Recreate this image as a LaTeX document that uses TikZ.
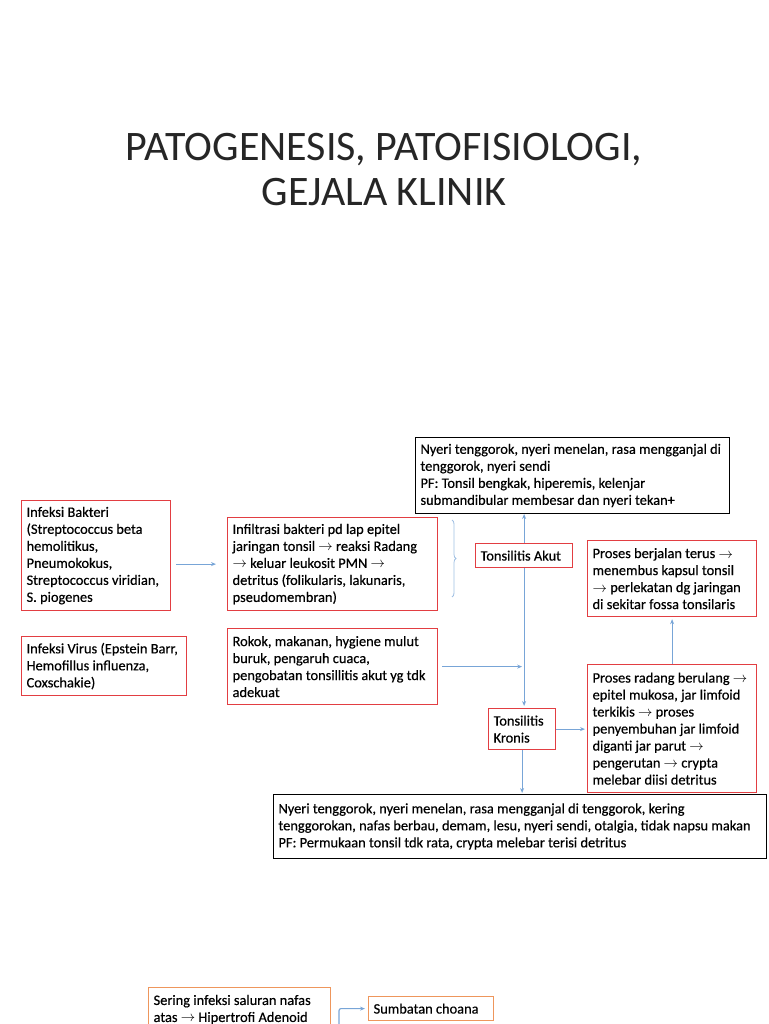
\documentclass[tikz,border=0pt]{standalone}
\usepackage{fontspec}
\setmainfont{Carlito}
\newfontfamily\boxfont{Carlito}[UprightFeatures={FakeBold=0.4}]
\usetikzlibrary{decorations.pathreplacing,arrows.meta}

\definecolor{boxred}{RGB}{226,62,66}
\definecolor{boxorange}{RGB}{238,150,92}
\definecolor{linkblue}{RGB}{120,165,215}
\newcommand{\rarr}{$\rightarrow$}

\begin{document}
\begin{tikzpicture}[x=1pt,y=-1pt,
  font=\boxfont\fontsize{14.4}{17}\selectfont,
  box/.style={draw,line width=1pt,fill=white,anchor=north west,align=flush left,
    inner xsep=5pt,inner ysep=3pt},
  redbox/.style={box,draw=boxred,line width=1.2pt},
  blackbox/.style={box,draw=black},
  orangebox/.style={box,draw=boxorange,line width=1.2pt},
  link/.style={draw=linkblue,line width=1.1pt,-{Stealth[length=5pt,width=4pt]}},
  bracket/.style={draw=linkblue!70,line width=0.8pt,decorate,decoration={brace,amplitude=4pt}}]

\clip (0,0) rectangle (768,1024);

%title
  \node[align=center,font=\rmfamily\fontsize{42}{45}\selectfont,text=black!85] (title) at (384,170)
    {PATOGENESIS, PATOFISIOLOGI,\\GEJALA KLINIK};

%causes
  \node[redbox,text width=139pt,minimum height=110pt] (bakteri) at (21,500)
    {Infeksi Bakteri\\(Streptococcus beta\\hemolitikus,\\Pneumokokus,\\Streptococcus viridian,\\S. piogenes};
  \node[redbox,text width=155pt,minimum height=59pt] (virus) at (21,636)
    {Infeksi Virus (Epstein Barr,\\Hemofillus influenza,\\Coxschakie)};
  \node[redbox,text width=200pt,minimum height=93pt] (infiltrasi) at (227,517)
    {Infiltrasi bakteri pd lap epitel\\jaringan tonsil \rarr{} reaksi Radang\\\rarr{} keluar leukosit PMN \rarr\\detritus (folikularis, lakunaris,\\pseudomembran)};
  \node[redbox,text width=200pt,minimum height=76pt] (rokok) at (227,628)
    {Rokok, makanan, hygiene mulut\\buruk, pengaruh cuaca,\\pengobatan tonsillitis akut yg tdk\\adekuat};

%tonsilitis
  \node[blackbox,text width=304pt,minimum height=76pt] (akutgejala) at (415,437)
    {Nyeri tenggorok, nyeri menelan, rasa mengganjal di\\tenggorok, nyeri sendi\\PF: Tonsil bengkak, hiperemis, kelenjar\\submandibular membesar dan nyeri tekan+};
  \node[redbox,text width=87pt,minimum height=24pt] (akut) at (475,543) {Tonsilitis Akut};
  \node[redbox,text width=159pt,minimum height=76pt] (berjalan) at (587,540)
    {Proses berjalan terus \rarr\\menembus kapsul tonsil\\\rarr{} perlekatan dg jaringan\\di sekitar fossa tonsilaris};
  \node[redbox,text width=159pt,minimum height=128pt] (radang) at (587,664)
    {Proses radang berulang \rarr\\epitel mukosa, jar limfoid\\terkikis \rarr{} proses\\penyembuhan jar limfoid\\diganti jar parut \rarr\\pengerutan \rarr{} crypta\\melebar diisi detritus};
  \node[redbox,text width=57pt,minimum height=41pt] (kronis) at (488,708) {Tonsilitis\\Kronis};
  \node[blackbox,text width=483pt,minimum height=64pt] (kronisgejala) at (273,794)
    {Nyeri tenggorok, nyeri menelan, rasa mengganjal di tenggorok, kering\\tenggorokan, nafas berbau, demam, lesu, nyeri sendi, otalgia, tidak napsu makan\\PF: Permukaan tonsil tdk rata, crypta melebar terisi detritus};

%adenoid
  \node[orangebox,text width=172pt,minimum height=44pt] (sering) at (148,987)
    {Sering infeksi saluran nafas\\atas \rarr{} Hipertrofi Adenoid};
  \node[orangebox,text width=115pt,minimum height=24pt] (choana) at (368,996) {Sumbatan choana};

%connectors
  \coordinate (bracetop) at (452,520);
  \coordinate (bracebot) at (452,597);
  \draw[bracket] (bracetop) -- (bracebot);
  \draw[link,shorten <=5pt,shorten >=11pt] (infiltrasi.west -| bakteri.east) -- (infiltrasi.west);
  \draw[link] (akut.north) -- (akut.north |- akutgejala.south);
  \draw[link,shorten >=2pt] (akut.south) -- (akut.south |- kronis.north);
  \coordinate (joint) at (akut.south |- rokok.east);
  \draw[link,shorten <=4pt,shorten >=2pt] (rokok.east) -- (joint);
  \draw[link,shorten >=2pt] (kronis.east) -- (kronis.east -| radang.west);
  \draw[link,shorten >=2pt] (radang.north) -- (berjalan.south);
  \draw[link,shorten >=1pt] (kronis.south) -- (kronis.south |- kronisgejala.north);
  \coordinate (fork) at (339,1040);
  \draw[link,rounded corners=2pt,shorten >=3pt] (fork) -- (fork |- choana.west) -- (choana.west);

\end{tikzpicture}
\end{document}
